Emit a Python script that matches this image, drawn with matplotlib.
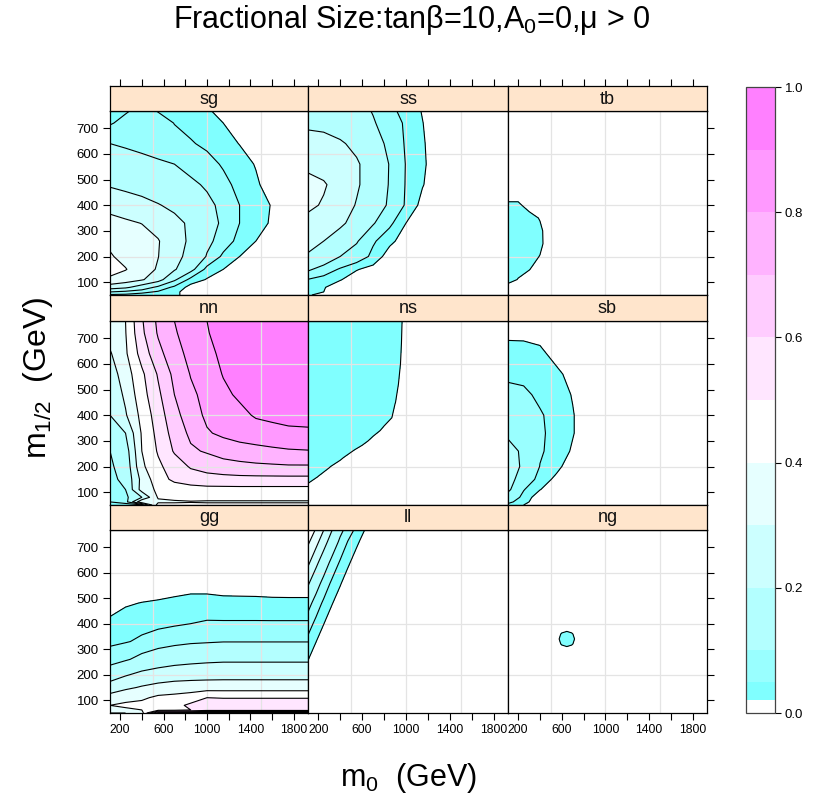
import numpy as np
import matplotlib
matplotlib.use("Agg")
import matplotlib.pyplot as plt

plt.rcParams['font.family'] = ['Liberation Sans', 'DejaVu Sans']
plt.rcParams['mathtext.fontset'] = 'custom'
plt.rcParams['mathtext.rm'] = 'Liberation Sans'
plt.rcParams['mathtext.it'] = 'Liberation Sans:italic'

# ---------------- data ----------------
title = r"Fractional Size:tanβ=10,A$_{\mathrm{0}}$=0,μ > 0"
xlabel = r"m$_{\mathrm{0}}$  (GeV)"
ylabel = r"m$_{\mathrm{1/2}}$  (GeV)"

panel_names = ["sg", "ss", "tb", "nn", "ns", "sb", "gg", "ll", "ng"]

levels = [0, 0.02, 0.05, 0.1, 0.2, 0.3, 0.4, 0.5, 0.6, 0.7, 0.8, 0.9, 1.0]
level_colors = ['#FFFFFF', '#80FFFF', '#99FFFF', '#B3FFFF', '#CCFFFF', '#E6FFFF',
                '#FFFFFF', '#FFE6FF', '#FFCCFF', '#FFB3FF', '#FF99FF', '#FF80FF']
line_levels = [0.02, 0.05, 0.1, 0.2, 0.3, 0.4, 0.5, 0.6, 0.7, 0.8, 0.9]

x_ticks = [200, 400, 600, 800, 1000, 1200, 1400, 1600, 1800]
x_ticklabels = ['200', '', '600', '', '1000', '', '1400', '', '1800']
y_ticks = [100, 200, 300, 400, 500, 600, 700]
cbar_ticks = [0.0, 0.2, 0.4, 0.6, 0.8, 1.0]

# grid of m0 (columns) and m1/2 (rows, bottom to top)
M0 = [107, 250, 400, 550, 700, 850, 1000, 1150, 1300, 1450, 1600, 1750, 1930]
M12 = [50, 62, 80, 110, 150, 200, 260, 330, 400, 480, 560, 640, 720, 767]

sg = [
    [0.04, 0.04, 0.035, 0.035, 0.03, 0, 0, 0, 0, 0, 0, 0, 0],
    [0.10, 0.08, 0.06, 0.045, 0.03, 0, 0, 0, 0, 0, 0, 0, 0],
    [0.25, 0.22, 0.15, 0.08, 0.04, 0.01, 0, 0, 0, 0, 0, 0, 0],
    [0.38, 0.35, 0.31, 0.24, 0.11, 0.035, 0.018, 0, 0, 0, 0, 0, 0],
    [0.44, 0.405, 0.345, 0.29, 0.21, 0.12, 0.035, 0.02, 0.005, 0, 0, 0, 0],
    [0.41, 0.37, 0.34, 0.302, 0.235, 0.165, 0.095, 0.04, 0.02, 0.003, 0, 0, 0],
    [0.38, 0.36, 0.34, 0.305, 0.25, 0.18, 0.115, 0.075, 0.035, 0.02, 0.005, 0, 0],
    [0.33, 0.315, 0.298, 0.27, 0.225, 0.185, 0.13, 0.088, 0.05, 0.032, 0.016, 0.002, 0],
    [0.27, 0.25, 0.23, 0.205, 0.18, 0.155, 0.115, 0.085, 0.05, 0.034, 0.018, 0.003, 0],
    [0.19, 0.175, 0.16, 0.145, 0.13, 0.112, 0.092, 0.06, 0.04, 0.025, 0.005, 0, 0],
    [0.15, 0.135, 0.122, 0.11, 0.1, 0.08, 0.062, 0.046, 0.033, 0.018, 0.003, 0, 0],
    [0.1, 0.09, 0.08, 0.07, 0.063, 0.053, 0.043, 0.032, 0.019, 0.005, 0, 0, 0],
    [0.045, 0.065, 0.08, 0.068, 0.049, 0.04, 0.031, 0.02, 0.005, 0, 0, 0, 0],
    [0.035, 0.045, 0.065, 0.048, 0.04, 0.032, 0.024, 0.01, 0, 0, 0, 0, 0],
]

ss = [
    [0.025, 0.005, 0, 0, 0, 0, 0, 0, 0, 0, 0, 0, 0],
    [0.03, 0.02, 0, 0, 0, 0, 0, 0, 0, 0, 0, 0, 0],
    [0.035, 0.022, 0.005, 0, 0, 0, 0, 0, 0, 0, 0, 0, 0],
    [0.048, 0.035, 0.022, 0.005, 0, 0, 0, 0, 0, 0, 0, 0, 0],
    [0.11, 0.075, 0.045, 0.022, 0.01, 0, 0, 0, 0, 0, 0, 0, 0],
    [0.19, 0.15, 0.1, 0.075, 0.04, 0.005, 0, 0, 0, 0, 0, 0, 0],
    [0.23, 0.2, 0.16, 0.105, 0.055, 0.028, 0.005, 0, 0, 0, 0, 0, 0],
    [0.27, 0.25, 0.215, 0.17, 0.105, 0.058, 0.02, 0, 0, 0, 0, 0, 0],
    [0.32, 0.29, 0.24, 0.195, 0.14, 0.09, 0.045, 0.01, 0, 0, 0, 0, 0],
    [0.34, 0.31, 0.26, 0.21, 0.16, 0.095, 0.047, 0.022, 0, 0, 0, 0, 0],
    [0.27, 0.26, 0.24, 0.21, 0.16, 0.097, 0.048, 0.026, 0, 0, 0, 0, 0],
    [0.22, 0.225, 0.21, 0.18, 0.13, 0.085, 0.045, 0.024, 0, 0, 0, 0, 0],
    [0.19, 0.18, 0.16, 0.135, 0.105, 0.075, 0.043, 0.021, 0, 0, 0, 0, 0],
    [0.17, 0.155, 0.14, 0.12, 0.097, 0.058, 0.04, 0.018, 0, 0, 0, 0, 0],
]

# tb: one small island on the left edge (local grid)
tb_m0 = [107, 200, 300, 400, 470, 1930]
tb_m12 = [50, 80, 110, 150, 200, 250, 300, 350, 400, 440, 767]
tb = [
    [0, 0, 0, 0, 0, 0],
    [0, 0, 0, 0, 0, 0],
    [0.04, 0.0175, 0, 0, 0, 0],
    [0.04, 0.035, 0.022, 0, 0, 0],
    [0.045, 0.042, 0.04, 0.018, 0, 0],
    [0.045, 0.045, 0.04, 0.033, 0, 0],
    [0.045, 0.045, 0.04, 0.031, 0, 0],
    [0.04, 0.04, 0.04, 0.0165, 0, 0],
    [0.03, 0.03, 0, 0, 0, 0],
    [0, 0, 0, 0, 0, 0],
    [0, 0, 0, 0, 0, 0],
]

nn = [
    [0.04, 0.04, 0.04, 0.45, 0.45, 0.45, 0.45, 0.45, 0.45, 0.45, 0.45, 0.45, 0.45],
    [0.05, 0.06, 0.39, 0.38, 0.38, 0.39, 0.38, 0.38, 0.38, 0.38, 0.38, 0.38, 0.38],
    [0.06, 0.08, 0.2, 0.41, 0.44, 0.45, 0.46, 0.46, 0.46, 0.46, 0.46, 0.46, 0.46],
    [0.07, 0.1, 0.34, 0.42, 0.45, 0.46, 0.47, 0.47, 0.47, 0.47, 0.47, 0.47, 0.47],
    [0.08, 0.12, 0.33, 0.46, 0.52, 0.55, 0.56, 0.565, 0.57, 0.57, 0.57, 0.57, 0.57],
    [0.09, 0.13, 0.38, 0.48, 0.55, 0.61, 0.64, 0.66, 0.67, 0.68, 0.685, 0.69, 0.69],
    [0.1, 0.15, 0.4, 0.51, 0.61, 0.685, 0.71, 0.74, 0.76, 0.77, 0.78, 0.79, 0.795],
    [0.13, 0.2, 0.41, 0.53, 0.64, 0.72, 0.79, 0.82, 0.84, 0.855, 0.87, 0.88, 0.885],
    [0.2, 0.29, 0.43, 0.55, 0.67, 0.75, 0.82, 0.845, 0.875, 0.91, 0.92, 0.93, 0.93],
    [0.22, 0.32, 0.46, 0.58, 0.7, 0.78, 0.83, 0.88, 0.915, 0.93, 0.94, 0.945, 0.95],
    [0.25, 0.35, 0.48, 0.61, 0.725, 0.805, 0.85, 0.905, 0.935, 0.95, 0.95, 0.95, 0.95],
    [0.29, 0.385, 0.54, 0.67, 0.76, 0.83, 0.875, 0.92, 0.94, 0.95, 0.95, 0.95, 0.95],
    [0.34, 0.396, 0.58, 0.71, 0.79, 0.845, 0.895, 0.93, 0.95, 0.96, 0.96, 0.96, 0.96],
    [0.36, 0.40, 0.59, 0.72, 0.8, 0.85, 0.9, 0.93, 0.95, 0.96, 0.97, 0.97, 0.97],
]

# ns: one large region in the upper-left (local grid)
ns_m0 = [107, 200, 300, 400, 500, 600, 700, 800, 900, 1000, 1930]
ns_m12 = [50, 120, 160, 200, 235, 265, 300, 340, 390, 450, 520, 600, 680, 767]
ns = [
    [0, 0, 0, 0, 0, 0, 0, 0, 0, 0, 0],
    [0.009, 0, 0, 0, 0, 0, 0, 0, 0, 0, 0],
    [0.04, 0.019, 0, 0, 0, 0, 0, 0, 0, 0, 0],
    [0.04, 0.04, 0.023, 0, 0, 0, 0, 0, 0, 0, 0],
    [0.04, 0.04, 0.04, 0.029, 0, 0, 0, 0, 0, 0, 0],
    [0.04, 0.04, 0.04, 0.04, 0.029, 0, 0, 0, 0, 0, 0],
    [0.04, 0.04, 0.04, 0.04, 0.04, 0.04, 0.004, 0, 0, 0, 0],
    [0.04, 0.04, 0.04, 0.04, 0.04, 0.04, 0.04, 0.009, 0, 0, 0],
    [0.04, 0.04, 0.04, 0.04, 0.04, 0.04, 0.04, 0.04, 0.012, 0, 0],
    [0.04, 0.04, 0.04, 0.04, 0.04, 0.04, 0.04, 0.04, 0.021, 0, 0],
    [0.04, 0.04, 0.04, 0.04, 0.04, 0.04, 0.04, 0.04, 0.029, 0, 0],
    [0.04, 0.04, 0.04, 0.04, 0.04, 0.04, 0.04, 0.04, 0.04, 0, 0],
    [0.04, 0.04, 0.04, 0.04, 0.04, 0.04, 0.04, 0.04, 0.04, 0.006, 0],
    [0.04, 0.04, 0.04, 0.04, 0.04, 0.04, 0.04, 0.04, 0.04, 0.009, 0],
]

sb = [
    [0.04, 0.02, 0, 0, 0, 0, 0, 0, 0, 0, 0, 0, 0],
    [0.06, 0.03, 0, 0, 0, 0, 0, 0, 0, 0, 0, 0, 0],
    [0.08, 0.04, 0, 0, 0, 0, 0, 0, 0, 0, 0, 0, 0],
    [0.11, 0.052, 0.021, 0, 0, 0, 0, 0, 0, 0, 0, 0, 0],
    [0.12, 0.075, 0.038, 0.012, 0, 0, 0, 0, 0, 0, 0, 0, 0],
    [0.13, 0.09, 0.049, 0.03, 0, 0, 0, 0, 0, 0, 0, 0, 0],
    [0.12, 0.09, 0.054, 0.038, 0.016, 0, 0, 0, 0, 0, 0, 0, 0],
    [0.09, 0.072, 0.055, 0.04, 0.022, 0, 0, 0, 0, 0, 0, 0, 0],
    [0.075, 0.065, 0.053, 0.04, 0.022, 0, 0, 0, 0, 0, 0, 0, 0],
    [0.065, 0.056, 0.044, 0.035, 0.018, 0, 0, 0, 0, 0, 0, 0, 0],
    [0.04, 0.042, 0.038, 0.033, 0, 0, 0, 0, 0, 0, 0, 0, 0],
    [0.038, 0.036, 0.033, 0, 0, 0, 0, 0, 0, 0, 0, 0, 0],
    [0.01, 0.01, 0, 0, 0, 0, 0, 0, 0, 0, 0, 0, 0],
    [0, 0, 0, 0, 0, 0, 0, 0, 0, 0, 0, 0, 0],
]

gg = [
    [0.3, 0.3, 0.35, 0.85, 0.85, 0.85, 0.85, 0.85, 0.85, 0.85, 0.85, 0.85, 0.85],
    [0.35, 0.38, 0.4, 0.45, 0.46, 0.5, 0.55, 0.55, 0.55, 0.55, 0.55, 0.55, 0.55],
    [0.4, 0.42, 0.43, 0.46, 0.47, 0.52, 0.56, 0.56, 0.56, 0.56, 0.56, 0.56, 0.56],
    [0.336, 0.367, 0.383, 0.42, 0.43, 0.45, 0.5, 0.495, 0.495, 0.495, 0.495, 0.495, 0.495],
    [0.249, 0.282, 0.309, 0.33, 0.344, 0.35, 0.354, 0.355, 0.355, 0.355, 0.355, 0.355, 0.355],
    [0.146, 0.191, 0.225, 0.243, 0.254, 0.259, 0.262, 0.264, 0.264, 0.264, 0.264, 0.264, 0.264],
    [0.072, 0.092, 0.121, 0.147, 0.165, 0.175, 0.182, 0.186, 0.186, 0.186, 0.186, 0.186, 0.186],
    [0.042, 0.047, 0.057, 0.07, 0.081, 0.09, 0.094, 0.098, 0.098, 0.098, 0.098, 0.098, 0.098],
    [0.028, 0.033, 0.038, 0.041, 0.045, 0.05, 0.054, 0.054, 0.054, 0.054, 0.054, 0.054, 0.054],
    [0.005, 0.017, 0.021, 0.024, 0.027, 0.03, 0.03, 0.028, 0.028, 0.028, 0.027, 0.027, 0.027],
    [0, 0, 0, 0, 0.005, 0.008, 0.008, 0.006, 0.005, 0.004, 0.003, 0.002, 0.002],
    [0, 0, 0, 0, 0, 0, 0, 0, 0, 0, 0, 0, 0],
    [0, 0, 0, 0, 0, 0, 0, 0, 0, 0, 0, 0, 0],
    [0, 0, 0, 0, 0, 0, 0, 0, 0, 0, 0, 0, 0],
]

# ll: diagonal bands in the upper-left corner (local grid)
ll_m0 = [107, 180, 250, 320, 400, 470, 550, 620, 700, 1930]
ll_m12 = [50, 200, 260, 330, 400, 480, 560, 640, 720, 767]
ll = [
    [0, 0, 0, 0, 0, 0, 0, 0, 0, 0],
    [0.001, 0, 0, 0, 0, 0, 0, 0, 0, 0],
    [0.0213, 0, 0, 0, 0, 0, 0, 0, 0, 0],
    [0.0399, 0.0207, 0, 0, 0, 0, 0, 0, 0, 0],
    [0.068, 0.0393, 0.0209, 0, 0, 0, 0, 0, 0, 0],
    [0.124, 0.072, 0.042, 0.0237, 0, 0, 0, 0, 0, 0],
    [0.214, 0.133, 0.078, 0.045, 0.024, 0.0017, 0, 0, 0, 0],
    [0.321, 0.225, 0.144, 0.084, 0.045, 0.0268, 0.002, 0, 0, 0],
    [0.416, 0.331, 0.239, 0.156, 0.084, 0.048, 0.027, 0.0055, 0, 0],
    [0.452, 0.393, 0.301, 0.209, 0.121, 0.072, 0.0395, 0.021, 0, 0],
]

# ng: a single small island (local grid)
ng_m0 = [107, 556, 601, 646, 691, 736, 1930]
ng_m12 = [50, 302, 321, 340, 359, 378, 767]
ng = [
    [0, 0, 0, 0, 0, 0, 0],
    [0, 0, 0.005, 0.01, 0.005, 0, 0],
    [0, 0.005, 0.025, 0.033, 0.025, 0.005, 0],
    [0, 0.01, 0.033, 0.045, 0.033, 0.01, 0],
    [0, 0.005, 0.025, 0.033, 0.025, 0.005, 0],
    [0, 0, 0.005, 0.01, 0.005, 0, 0],
    [0, 0, 0, 0, 0, 0, 0],
]

panel_data = {
    "sg": (M0, M12, sg), "ss": (M0, M12, ss), "tb": (tb_m0, tb_m12, tb),
    "nn": (M0, M12, nn), "ns": (ns_m0, ns_m12, ns), "sb": (M0, M12, sb),
    "gg": (M0, M12, gg), "ll": (ll_m0, ll_m12, ll), "ng": (ng_m0, ng_m12, ng),
}

# ---------------- layout ----------------
W, H = 817, 802
fig = plt.figure(figsize=(W / 100, H / 100), dpi=100)

XLIM = (107, 1930)
YLIM = (50, 767)
cols_px = [(110, 308), (308, 508), (508, 707)]
rows_px = [(111, 295, 86), (321, 505, 295), (530, 713, 505)]  # panel top, bottom, strip top

STRIP_COLOR = '#FFE5CC'
GRID_COLOR = '#E4E4E4'
TICK_LEN = 5
XLABEL_SIZE = 8.8
YLABEL_SIZE = 9.5

ref_cf = None
for idx, name in enumerate(panel_names):
    r, c = divmod(idx, 3)
    x0, x1 = cols_px[c]
    yt, yb, ys = rows_px[r]
    ax = fig.add_axes([x0 / W, 1 - yb / H, (x1 - x0) / W, (yb - yt) / H])
    xs, ys_, z = panel_data[name]
    Z = np.array(z, dtype=float)
    cf = ax.contourf(xs, ys_, Z, levels=levels, colors=level_colors, zorder=1)
    if name == "nn":
        ref_cf = cf
    for gx in [500, 1000, 1500]:
        ax.axvline(gx, color=GRID_COLOR, lw=0.9, zorder=2)
    for gy in [200, 400, 600]:
        ax.axhline(gy, color=GRID_COLOR, lw=0.9, zorder=2)
    present = [lv for lv in line_levels if Z.min() < lv < Z.max()]
    if present:
        ax.contour(xs, ys_, Z, levels=present, colors='black', linewidths=0.8, zorder=3)
    ax.set_xlim(XLIM)
    ax.set_ylim(YLIM)
    for sp in ax.spines.values():
        sp.set_linewidth(0.9)
        sp.set_color('black')
        sp.set_zorder(5)

    if r == 2:
        ax.set_xticks(x_ticks)
        ax.set_xticklabels(x_ticklabels, fontsize=XLABEL_SIZE)
        ax.tick_params(axis='x', direction='out', length=TICK_LEN, width=0.8, pad=3)
    else:
        ax.set_xticks([])
    if c == 0:
        ax.set_yticks(y_ticks)
        ax.set_yticklabels([str(v) for v in y_ticks], fontsize=YLABEL_SIZE)
        ax.tick_params(axis='y', direction='out', length=TICK_LEN, width=0.8, pad=3)
    elif c == 2:
        ax.yaxis.tick_right()
        ax.set_yticks(y_ticks)
        ax.set_yticklabels([])
        ax.tick_params(axis='y', direction='out', length=TICK_LEN, width=0.8)
    else:
        ax.set_yticks([])

    # strip
    sax = fig.add_axes([x0 / W, 1 - yt / H, (x1 - x0) / W, (yt - ys) / H])
    sax.set_facecolor(STRIP_COLOR)
    sax.set_xlim(XLIM)
    sax.set_ylim(0, 1)
    sax.set_yticks([])
    for sp in sax.spines.values():
        sp.set_linewidth(0.9)
        sp.set_color('black')
    sax.text(0.5, 0.48, name, transform=sax.transAxes, ha='center', va='center',
             fontsize=13, color='#111111')
    if r == 0:
        sax.xaxis.tick_top()
        sax.set_xticks(x_ticks)
        sax.set_xticklabels([])
        sax.tick_params(axis='x', direction='out', length=TICK_LEN, width=0.8)
    else:
        sax.set_xticks([])

# colorbar
cax = fig.add_axes([746 / W, 1 - 713 / H, 29 / W, (713 - 87) / H])
cb = fig.colorbar(ref_cf, cax=cax, spacing='proportional', ticks=cbar_ticks)
cb.ax.set_yticklabels([f"{t:.1f}" for t in cbar_ticks], fontsize=YLABEL_SIZE)
cb.ax.tick_params(direction='out', length=4, width=0.8, pad=3)
cb.outline.set_linewidth(0.9)
cb.outline.set_edgecolor('#444444')

# titles
fig.text(412 / W, 1 - 20 / H, title, ha='center', va='center', fontsize=22)
fig.text(408 / W, 1 - 778 / H, xlabel, ha='center', va='center', fontsize=22)
fig.text(38 / W, 1 - 378 / H, ylabel, ha='center', va='center', fontsize=23, rotation=90)

fig.savefig("out.png", dpi=100)
